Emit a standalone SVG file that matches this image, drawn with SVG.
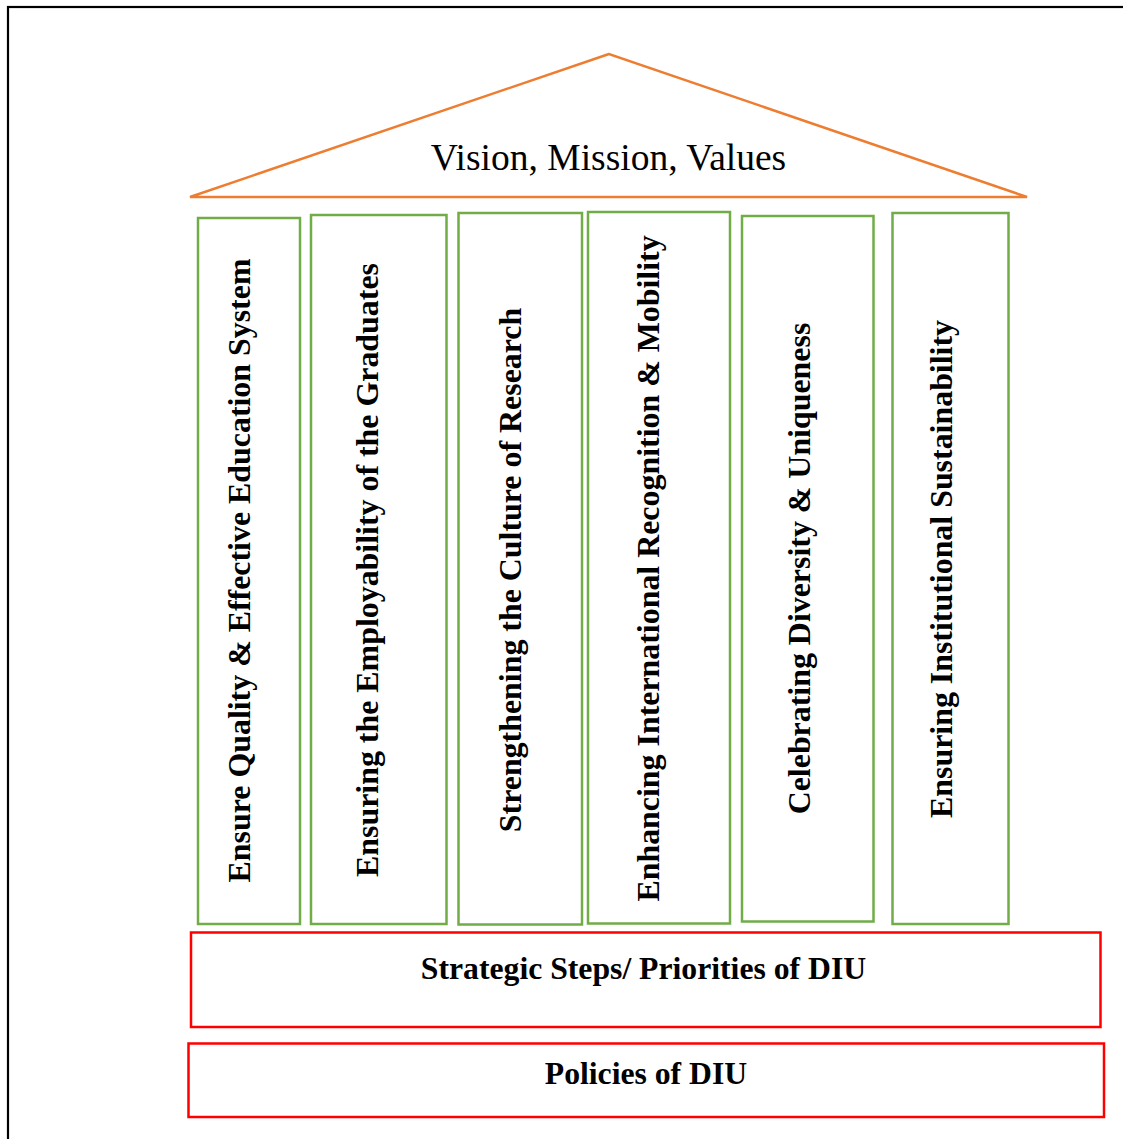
<svg xmlns="http://www.w3.org/2000/svg" width="1123" height="1139" viewBox="0 0 1123 1139">
<style>
.pillar{fill:#fff;stroke:#70AD47;stroke-width:2.5}
.base{fill:#fff;stroke:#FF0000;stroke-width:2.5}
.vt{font-family:"Liberation Serif","Times New Roman",serif;font-weight:bold;font-size:31.9px;fill:#000;text-anchor:middle}
.bt{font-family:"Liberation Serif","Times New Roman",serif;font-weight:bold;font-size:31.7px;fill:#000;text-anchor:middle}
.title{font-family:"Liberation Serif","Times New Roman",serif;font-size:37.5px;fill:#000;text-anchor:middle}
</style>
<rect width="1123" height="1139" fill="#fff"/>
<rect x="8" y="7" width="1200" height="1200" fill="none" stroke="#000" stroke-width="2.2"/>
<g id="roof">
<polygon points="609,54 190,197 1027,197" fill="#fff" stroke="#ED7D31" stroke-width="2.5" stroke-linejoin="miter"/>
<text class="title" x="608.5" y="170">Vision, Mission, Values</text>
</g>
<g id="pillar1">
<rect class="pillar" x="198" y="218" width="102" height="706"/>
<text class="vt" transform="translate(250,570.5) rotate(-90)">Ensure Quality &amp; Effective Education System</text>
</g>
<g id="pillar2">
<rect class="pillar" x="311" y="215" width="135.5" height="709"/>
<text class="vt" transform="translate(378,570) rotate(-90)">Ensuring the Employability of the Graduates</text>
</g>
<g id="pillar3">
<rect class="pillar" x="458.5" y="213" width="123.5" height="711.5"/>
<text class="vt" transform="translate(521,570) rotate(-90)">Strengthening the Culture of Research</text>
</g>
<g id="pillar4">
<rect class="pillar" x="588" y="212" width="142" height="711.5"/>
<text class="vt" transform="translate(659,568.5) rotate(-90)">Enhancing International Recognition &amp; Mobility</text>
</g>
<g id="pillar5">
<rect class="pillar" x="742" y="216" width="131.5" height="705.5"/>
<text class="vt" transform="translate(810,568.5) rotate(-90)">Celebrating Diversity &amp; Uniqueness</text>
</g>
<g id="pillar6">
<rect class="pillar" x="892.5" y="213" width="116" height="711"/>
<text class="vt" transform="translate(952,569) rotate(-90)">Ensuring Institutional Sustainability</text>
</g>
<g id="strategic">
<rect class="base" x="191" y="932.5" width="909.5" height="94.5"/>
<text class="bt" x="643.5" y="978.5">Strategic Steps/ Priorities of DIU</text>
</g>
<g id="policies">
<rect class="base" x="188.5" y="1043.5" width="915.5" height="73.5"/>
<text class="bt" x="646" y="1083.5">Policies of DIU</text>
</g>
<g id="connectors"></g>
</svg>
